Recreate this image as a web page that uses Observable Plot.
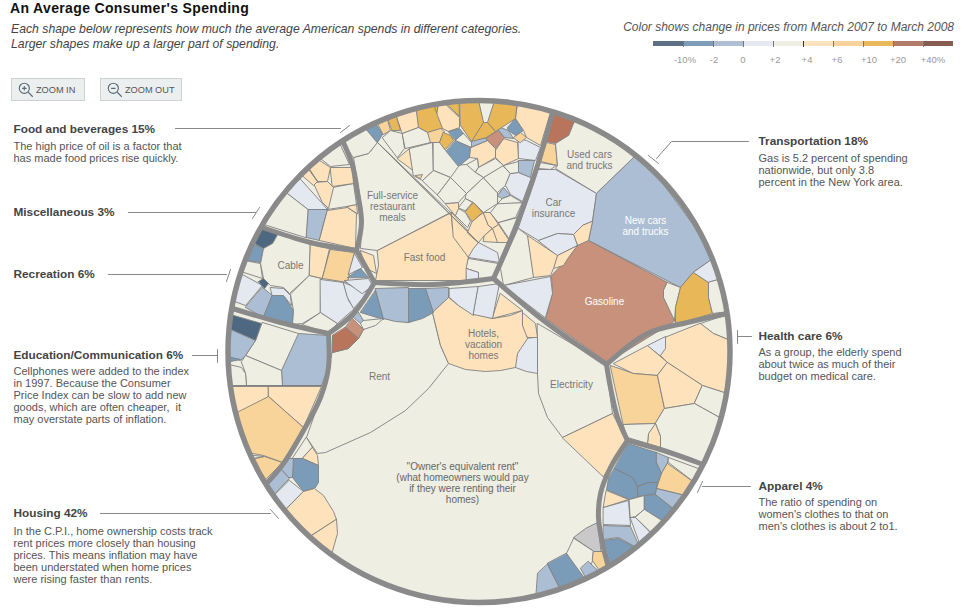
<!DOCTYPE html>
<html><head><meta charset="utf-8">
<script src="https://cdn.jsdelivr.net/npm/d3@7"></script>
<script src="https://cdn.jsdelivr.net/npm/@observablehq/plot@0.6"></script>
<style>
html,body{margin:0;padding:0;background:#fff;overflow:hidden;width:966px;height:614px}
body{position:relative;font-family:"Liberation Sans",Arial,sans-serif}
#chart{position:absolute;left:0;top:0;z-index:0}
.abs{position:absolute;white-space:nowrap;z-index:2}
.btn{position:absolute;z-index:2;top:78px;height:21px;background:#ecefef;border:1px solid #cfd2d2;font-size:9.2px;color:#555;line-height:23px;box-sizing:content-box}
.btn svg{position:absolute;left:5px;top:2px}
.btn span{position:absolute;left:24px;top:0}
</style></head><body>
<div class="abs" style="left:10px;top:0;font-size:14px;font-weight:bold;letter-spacing:.35px;color:#111">An Average Consumer's Spending</div>
<div class="abs" style="left:11px;top:22px;font-size:12.25px;font-style:italic;color:#444;line-height:15px">Each shape below represents how much the average American spends in different categories.<br>Larger shapes make up a larger part of spending.</div>
<div class="abs" style="right:12px;top:20px;font-size:12px;font-style:italic;color:#555">Color shows change in prices from March 2007 to March 2008</div>
<div id="legend"></div>
<div class="btn" style="left:11px;width:72px"><svg width="18" height="18" viewBox="0 0 16 16" fill="none" stroke="#5a6a78"><circle cx="6.5" cy="6.5" r="4.5"/><path d="M10 10l4 4M4.5 6.5h4M6.5 4.5v4"/></svg><span>ZOOM IN</span></div>
<div class="btn" style="left:100px;width:80px"><svg width="18" height="18" viewBox="0 0 16 16" fill="none" stroke="#5a6a78"><circle cx="6.5" cy="6.5" r="4.5"/><path d="M10 10l4 4M4.5 6.5h4"/></svg><span>ZOOM OUT</span></div>
<div id="chart"></div>
<script>
// Colour bins: change in prices, March 2007 to March 2008
const binBreaks = [-10,-2,0,2,4,6,10,20,40];
const binLabels = ["-10%","-2","0","+2","+4","+6","+10","+20","+40%"];
const cellColors = ["#4d6880","#7a9cb9","#abbed3","#e4e8f1","#eeeee3","#fde2bc","#f8d49a","#e8b757","#c8917b","#b9745c"];
const legendColors = ["#5d7085","#7e9db8","#aebfd4","#e5e9f2","#eeeee3","#fde3bd","#f8d49c","#e9b85a","#b27c6a","#875d50"];

// Each cell: [estimated % change, outline]
const housingCells = [
[3,"332,352 348,348 358,338 363,329 383,318 408,322 432,312 440,345 448,363 428,388 405,410 370,432 325,452 317,453 306,437 320,397 328,367"],
[3,"537,323 605,363 612,413 562,437 547,417 538,393 537,373"],
[5,"562,437 587,425 612,413 626,440 603,476"],
[1,"537,337 537,373 526,371 515,367 515,360 517,353 521,345 527,338"],
[5,"522,312 535,323 537,337 527,337 523,331 522,325"],
[5,"448,297 458,305 473,313 492,318 510,315 522,310 522,325 527,338 517,353 515,367 500,370 485,371 465,369 448,363 440,345 432,312"],
[5,"500,293 522,310 492,318"],
[1,"449,288 478,286 473,315 458,305 449,297"],
[1,"478,286 499,283 492,318 473,314"],
[-1,"425,288 448,287 448,297 432,312"],
[-5,"408,288 425,288 433,312 422,318 408,322"],
[-1,"375,288 408,287 408,322 395,321 383,318"],
[-5,"375,290 383,319 360,312"],
[-1,"358,312 363,320 360,323 353,317"],
[3,"363,320 383,318 375,325 363,329 360,323"],
[30,"352,318 363,329 358,338 345,327"],
[45,"345,327 358,338 348,348 332,352 332,335"],
[3,"306,437 312,447 302,458 292,458"],
[5,"312,447 317,455 318,465 302,458"],
[-5,"293,458 302,458 318,465 318,482 315,487 303,491 292,477"],
[-1,"288,458 293,458 292,477 288,477 280,468"],
[-1,"280,468 289,478 277,493 269,482"],
[1,"289,480 303,491 287,508 277,494"],
[5,"303,491 314,488 323,495 328,503 333,511 336,519 311,532 287,509"],
[5,"336,519 337,533 334,553 311,533"],
[null,"597,522 585,528 573,537 593,551 600,551"],
[3,"573,538 566,553 580,573 592,560 593,551"],
[8,"593,551 602,551 603,563 598,567 592,560"],
[-1,"588,561 598,567 584,574 580,568"],
[-5,"566,553 584,575 559,585 547,563"],
[-1,"547,564 559,585 533,592 537,573"]
];
const transportCells = [
[45,"553,113 574,121 568,135 555,143 546,141"],
[8,"546,142 555,144 557,165 540,161"],
[3,"540,162 556,165 550,169 538,168"],
[3,"574,121 634,158 596,193 555,168 557,165 555,143 568,135"],
[1,"538,169 555,169 596,193 592,221 582,225 573,234 557,233 538,240 518,228"],
[-1,"634,158 708,259 693,272 680,287 588,240 592,221 596,193"],
[30,"588,240 667,282 663,290 663,297 675,320 607,362 545,318 552,293 551,275 568,257 577,245"],
[3,"667,282 680,287 675,307 674,320 663,297 663,290"],
[15,"693,272 708,282 708,297 712,313 675,324 675,307 680,287"],
[1,"708,259 716,280 708,282 693,272"],
[3,"716,280 723,312 712,313 708,297 708,282"],
[5,"592,221 588,240 577,245 573,234 582,225"],
[1,"538,240 557,233 573,234 577,245 557,255"],
[5,"557,255 577,245 568,257 563,265 553,268"],
[5,"527,235 557,255 553,268 550,275 533,277"],
[3,"518,228 527,235 533,277 503,285 500,268"],
[1,"503,285 550,276 552,293 545,317"]
];
const healthCells = [
[3,"700,323 727,313 728,342 713,333"],
[5,"700,323 713,333 728,342 723,393 702,385 667,362 660,355 665,337"],
[1,"647,345 665,336 665,348 660,355"],
[5,"613,363 647,345 667,362 657,375 633,373"],
[8,"610,365 633,373 657,375 664,408 655,423 623,424"],
[5,"667,362 702,385 694,403 664,408 657,375"],
[3,"702,385 723,393 717,418 694,403"],
[3,"664,408 694,403 717,418 702,463 660,447 660,436 655,423"],
[5,"655,423 660,436 660,447 647,443 648,433"],
[3,"623,424 655,423 648,433 647,443 627,437"]
];
const apparelCells = [
[-5,"627,443 656,452 656,462 661,473 657,482 637,486 632,477 614,468"],
[-1,"656,452 668,457 667,463 661,473 656,462"],
[3,"668,457 698,467 693,477 685,477 668,462"],
[8,"667,463 685,477 682,491 656,488 661,473"],
[-5,"685,477 692,480 687,491 682,491"],
[-1,"656,488 682,491 672,507 655,495"],
[-5,"614,468 632,477 637,486 638,496 629,499 606,489 608,478"],
[-5,"637,486 648,482 657,482 655,493 644,495 638,496"],
[5,"606,490 628,499 603,507"],
[1,"603,507 628,500 630,525 603,524"],
[3,"629,499 644,495 644,509 635,516 630,517"],
[-5,"644,495 655,494 671,507 661,518 644,509"],
[3,"644,509 661,518 649,530 635,517"],
[1,"630,517 635,517 649,531 634,544 631,537"],
[-1,"603,525 630,526 631,538 618,537 603,539"],
[-5,"603,540 618,538 631,539 634,544 608,563"]
];
const educationCells = [
[5,"232,385 268,386 268,396 253,408 238,413"],
[5,"268,386 321,386 303,427 268,396"],
[8,"238,413 268,396 303,427 282,462 263,455 253,447 248,447"],
[3,"248,447 258,448 264,456 253,456"],
[8,"253,457 264,456 282,462 267,480"],
[-1,"298,333 328,335 328,367 321,385 282,385 281,370"],
[3,"262,322 298,333 281,370 245,355 255,340"],
[-12,"241,315 261,323 255,340 233,327"],
[-5,"232,310 241,315 233,327 230,322"],
[-1,"229,330 233,327 255,340 245,355 240,360 228,355"],
[-5,"228,356 235,355 240,359 235,362 228,362"],
[15,"228,362 236,362 232,365"],
[3,"241,361 245,355 281,370 282,385 246,385 245,373"],
[3,"232,365 236,362 241,367 245,373 246,385 232,385"]
];
const recreationCells = [
[-12,"262,226 278,233 272,243 263,248 255,243"],
[-5,"255,245 263,248 260,262 247,262"],
[3,"247,262 260,263 262,278 243,272"],
[1,"243,273 262,285 245,305 234,300"],
[-1,"262,287 272,295 263,317 245,307"],
[-5,"272,295 283,295 293,310 292,323 263,317"],
[1,"270,287 283,288 290,295 291,305 283,295 272,295"],
[3,"278,233 310,244 309,275 289,293 283,287 270,285 263,278 260,263 263,248 272,243"],
[-12,"258,281 263,278 268,283 264,288"],
[3,"309,275 321,278 320,312 302,323 292,324 293,310 290,294"],
[3,"302,324 320,312 337,323 328,332"],
[5,"310,244 329,248 322,278 309,275"],
[8,"330,249 354,252 347,282 322,278"],
[1,"320,279 343,282 348,300 354,308 337,323 320,312"],
[1,"343,282 370,293 363,297 353,308 347,297"],
[-5,"347,277 360,268 368,277"],
[1,"354,253 362,267 348,274"],
[1,"344,280 368,278 372,285 362,293"]
];
const miscCells = [
[3,"263,225 287,193 308,209 306,237"],
[1,"287,193 300,178 321,202 327,209 308,209"],
[-1,"308,209 327,209 319,240 306,237"],
[5,"327,210 347,207 356,213 355,248 319,240"],
[5,"346,206 356,204 357,213"],
[3,"332,187 353,183 356,204 346,206 327,209"],
[5,"330,167 352,167 353,183 332,186"],
[5,"318,162 330,167 327,181 317,181 313,173"],
[5,"313,182 327,181 333,187 328,208 322,202"],
[5,"302,172 310,168 317,181 313,185 308,182"],
[5,"310,168 318,162 313,173 317,181"],
[3,"320,150 345,150 349,164 330,166 320,160"]
];
const foodCells = [
[3,"377,142 450,212 377,250 360,248 362,212 353,157 368,153"],
[3,"343,140 365,130 377,142 368,153 353,157"],
[5,"377,250 451,212 452,228 468,257 466,280 375,280 378,265"],
[5,"451,212 478,242 468,257 453,237"],
[5,"360,250 373,255 376,273 370,270 365,265"],
[1,"473,248 478,242 497,252 499,262 468,257"],
[3,"468,258 498,263 493,278 478,279 478,272 466,268"],
[1,"466,268 478,272 478,279 466,280"],
[5,"467,232 472,220 483,212 488,225 492,228 484,235 478,242"],
[5,"483,212 490,212 498,224 492,228 488,225"],
[5,"492,228 498,224 510,242 497,242"],
[5,"484,235 492,228 497,242 483,241"],
[3,"498,222 517,217 510,240"],
[3,"490,212 498,202 522,202 515,217 498,222"],
[15,"465,211 473,202 482,212 472,221"],
[3,"458,207 465,198 472,202 465,210"],
[3,"458,208 465,212 470,221 467,227 455,215"],
[5,"445,203 458,202 458,208 455,215"],
[3,"437,194 450,177 466,193 458,202 445,203"],
[3,"466,193 483,177 497,192 497,203 483,212 473,202 465,198"],
[-1,"497,195 503,187 510,195 502,198"],
[3,"497,203 502,198 510,195 522,202"],
[3,"483,177 502,165 510,173 505,185 497,192"],
[1,"510,173 518,172 531,177 522,201 510,194 505,185"],
[-1,"518,160 534,160 530,177 518,172"],
[3,"503,165 518,161 518,172 510,173"],
[1,"518,138 526,140 540,147 535,160 518,158"],
[5,"495,150 503,138 517,142 518,158 503,165 495,157"],
[5,"470,147 487,140 495,148 495,157 478,167 477,158 469,157"],
[3,"466,164 477,158 478,167 475,172"],
[3,"478,167 495,158 503,165 483,177 475,172"],
[3,"453,165 466,164 475,172 483,177 466,193 450,177"],
[-5,"455,140 470,147 469,157 458,166 445,152"],
[-1,"472,140 486,137 487,140 470,147"],
[30,"486,137 498,130 504,137 495,148 487,140"],
[-1,"500,127 508,130 513,138 504,137 498,130"],
[-5,"507,127 515,118 523,130 515,135 508,130"],
[8,"513,137 520,132 526,137 520,142"],
[5,"517,106 550,112 540,145 526,137 523,130 515,118"],
[15,"495,104 516,106 515,118 495,131 487,122"],
[15,"483,122 487,122 495,131 486,137 471,141"],
[3,"477,102 495,103 487,122 483,122"],
[15,"460,102 477,102 483,122 471,141 460,125"],
[15,"442,105 459,103 459,116 442,110"],
[15,"433,106 442,105 441,112 436,115"],
[5,"436,115 441,111 459,117 459,127 448,131 442,128"],
[15,"417,110 433,107 437,115 442,128 427,132 418,127"],
[8,"427,132 440,128 444,131 439,142 430,142"],
[15,"443,132 450,135 453,140 445,149 439,143"],
[-5,"448,131 459,128 463,133 455,140"],
[3,"463,133 471,142 471,147 455,140"],
[5,"397,118 417,111 418,127 402,133"],
[15,"388,119 397,118 400,130 392,130"],
[8,"377,123 388,120 390,130 383,134"],
[-5,"365,130 375,124 382,134 377,142"],
[3,"382,137 390,130 402,133 404,148 397,157"],
[3,"402,133 418,127 427,132 430,142 405,148"],
[5,"397,158 409,148 413,170"],
[3,"409,148 432,142 433,170 422,180 413,175"],
[3,"433,142 439,142 445,150 458,166 450,177 433,170"],
[8,"415,175 422,174 420,178"],
[3,"422,180 433,170 450,177 437,194"],
[3,"377,142 478,242"]
];

// Heavy dividers between the eight categories
const categoryBorders = [
"342,140 352,165 357,192 361,222 356,250",
"356,250 374,282",
"262,227 310,242 356,250",
"374,282 433,284 493,278",
"552,113 537,165 517,222 493,278",
"493,278 543,320 606,364",
"606,364 647,333 687,322 727,313",
"606,364 610,387 617,417 627,440",
"627,440 663,450 700,463",
"627,440 610,467 600,493 598,517 602,543 607,563",
"374,282 353,313 328,333",
"328,333 280,322 232,308",
"328,333 328,367 320,397 303,430 283,463 267,482"
];
// Thin leader lines from the notes to the circle
const leaderLines = [
"175,128 340,128","340,132 349,125",
"128,212 255,212","252,218 259,207",
"108,274 226,274","226,281 230,269",
"192,355 217,355","217,349 217,362",
"100,513 270,513","270,509 278,518",
"748,141 671,141 656,158","648,155 658,163",
"737,336 751,336","737,330 737,343",
"702,486 750,486","702,481 697,492"
];
const thinLines = ["232,385 321,385"];

const cellLabels = [
["Full-service\nrestaurant\nmeals",392,206,"#777"],["Fast food",424,257,"#777"],
["Used cars\nand trucks",589,159,"#777"],["Car\ninsurance",553,207,"#777"],
["New cars\nand trucks",645,225,"#fff"],["Gasoline",604,301,"#fff"],
["Electricity",571,384,"#777"],["Hotels,\nvacation\nhomes",483,344,"#777"],
["Rent",379,376,"#777"],["Cable",290,265,"#777"],
["\"Owner's equivalent rent\"\n(what homeowners would pay\nif they were renting their\nhomes)",462,482,"#666"]
];
const noteHeads = [
["Food and beverages 15%",13,129],["Miscellaneous 3%",13,212],["Recreation 6%",13,274],
["Education/Communication 6%",13,355],["Housing 42%",13,513],
["Transportation 18%",758,141],["Health care 6%",758,336],["Apparel 4%",758,486]
];
const noteBodies = [
["The high price of oil is a factor that\nhas made food prices rise quickly.",13,152],
["Cellphones were added to the index\nin 1997. Because the Consumer\nPrice Index can be slow to add new\ngoods, which are often cheaper,  it\nmay overstate parts of inflation.",13,394.5],
["In the C.P.I., home ownership costs track\nrent prices more closely than housing\nprices. This means inflation may have\nbeen understated when home prices\nwere rising faster than rents.",13,554.5],
["Gas is 5.2 percent of spending\nnationwide, but only 3.8\npercent in the New York area.",758,170],
["As a group, the elderly spend\nabout twice as much of their\nbudget on medical care.",758,364],
["The ratio of spending on\nwomen's clothes to that on\nmen's clothes is about 2 to1.",758,514]
];
const circleCentre = [{x:478.5,y:351}];

const parse = s => s.trim().split(/\s+/).map(p => p.split(",").map(Number));
// Vertices read off close to the rim are pushed out to it, so that no cell stops short of the circle
const toRim = ([x,y]) => {
  const dx = x-circleCentre[0].x, dy = y-circleCentre[0].y, d = Math.hypot(dx,dy);
  return d > 240 ? [circleCentre[0].x+dx*256/d, circleCentre[0].y+dy*256/d] : [x,y];
};
const allCells = [...housingCells,...transportCells,...healthCells,...apparelCells,...educationCells,...recreationCells,...miscCells,...foodCells];
const cellPoints = allCells.flatMap(([change,s],id) => parse(s).map(toRim).map(([x,y]) => ({id,change,x,y})));
const polyPoints = list => list.flatMap((s,id) => parse(s).map(([x,y]) => ({id,x,y})));
const toRows = list => list.map(([text,x,y,color]) => ({text,x,y,color}));

const chart = Plot.plot({
  width:966,height:614,margin:0,
  style:{background:"transparent",fontFamily:"'Liberation Sans',Arial,sans-serif"},
  x:{domain:[0,966],range:[0,966],axis:null},
  y:{domain:[0,614],range:[0,614],axis:null},
  color:{type:"threshold",domain:binBreaks,range:cellColors,unknown:"#c9c9c9"},
  marks:[
    Plot.dot(circleCentre,{x:"x",y:"y",r:251,fill:"#eeeee3",stroke:"none"}),
    Plot.line(cellPoints,{x:"x",y:"y",z:"id",fill:"change",stroke:"#808080",strokeWidth:0.9,curve:"linear-closed",strokeLinejoin:"round"}),
    Plot.line(polyPoints(thinLines),{x:"x",y:"y",z:"id",stroke:"#808080",strokeWidth:0.9}),
    Plot.line(polyPoints(categoryBorders),{x:"x",y:"y",z:"id",stroke:"#8a8a8a",strokeWidth:5,curve:"catmull-rom",strokeLinecap:"round"}),
    Plot.dot(circleCentre,{x:"x",y:"y",r:600,fill:"none",stroke:"#fff",strokeWidth:700}),
    Plot.dot(circleCentre,{x:"x",y:"y",r:251,fill:"none",stroke:"#8a8a8a",strokeWidth:5.5}),
    Plot.line(polyPoints(leaderLines),{x:"x",y:"y",z:"id",stroke:"#888",strokeWidth:1}),
    Plot.text(toRows(cellLabels),{x:"x",y:"y",text:"text",fill:"color",fontSize:10,lineHeight:1.1,textAnchor:"middle"}),
    Plot.text(toRows(noteHeads),{x:"x",y:"y",text:"text",fill:"#444",fontSize:11.8,fontWeight:"bold",textAnchor:"start"}),
    Plot.text(toRows(noteBodies),{x:"x",y:"y",text:"text",fill:"#555",fontSize:11,lineHeight:1.09,textAnchor:"start"})
  ]
});
document.getElementById("chart").appendChild(chart);

// Colour legend
const legend = document.getElementById("legend");
legendColors.forEach((c,i) => {
  const s = document.createElement("div");
  s.className = "abs";
  s.style.cssText = `left:${653+30*i}px;top:41px;width:30px;height:5px;background:${c}`;
  legend.appendChild(s);
});
const labelCentres = [685,714,743,775,807,837,869,898,933];
binLabels.forEach((t,i) => {
  const tick = document.createElement("div");
  tick.className = "abs";
  tick.style.cssText = `left:${683+30*i}px;top:41px;width:1px;height:6px;background:${i===4?"#333":"#777"}`;
  legend.appendChild(tick);
  const l = document.createElement("div");
  l.className = "abs";
  l.textContent = t;
  l.style.cssText = `left:${labelCentres[i]-20}px;width:40px;text-align:center;top:54px;font-size:9.5px;color:#999`;
  legend.appendChild(l);
});
</script>
</body></html>
